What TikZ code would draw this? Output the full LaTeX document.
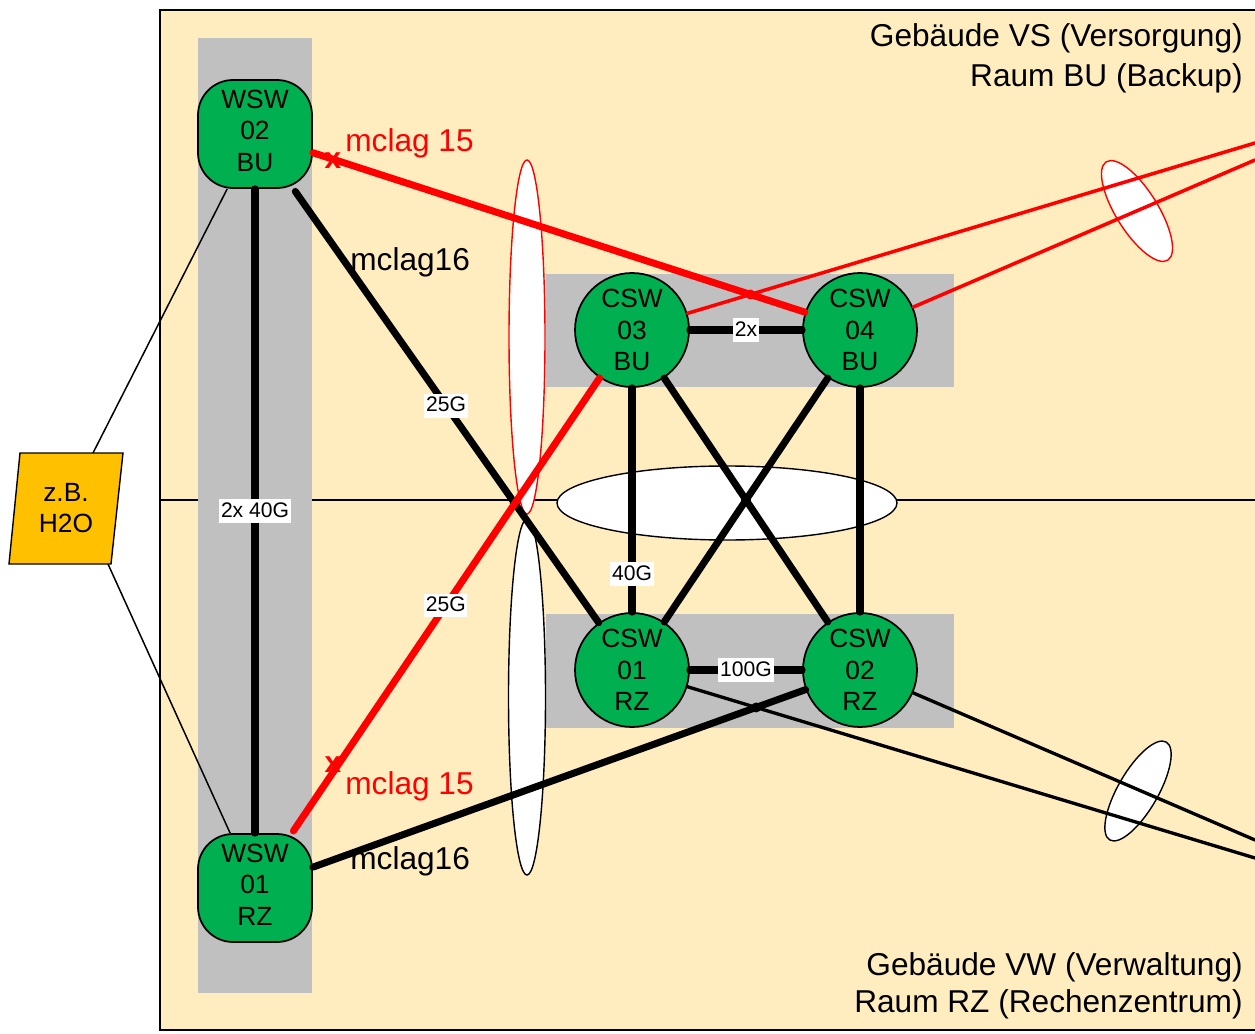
\documentclass[tikz,border=0pt]{standalone}
\usepackage{fontspec}
\setmainfont{Liberation Sans}
\usetikzlibrary{calc}

\definecolor{hallbg}{HTML}{FFEDC0}
\definecolor{rackgray}{HTML}{C0C0C0}
\definecolor{swgreen}{HTML}{00B050}
\definecolor{srcorange}{HTML}{FFC000}
\definecolor{linkred}{HTML}{FF0000}

\tikzset{
  wswbox/.style={draw=black, line width=1pt, fill=swgreen, rounded corners=0.7cm,
    minimum width=2.28cm, minimum height=2.16cm, align=center, inner sep=0pt,
    font=\fontsize{15}{18}\selectfont},
  cswbox/.style={draw=black, line width=1pt, fill=swgreen, circle, minimum size=2.28cm,
    align=center, inner sep=0pt, font=\fontsize{15}{18}\selectfont},
  trunk/.style={draw=black, line width=4pt, line cap=round},
  lagred/.style={draw=linkred, line width=4pt, line cap=round},
  upred/.style={draw=linkred, line width=2pt, line cap=round},
  upblack/.style={draw=black, line width=1.9pt, line cap=round},
  feed/.style={draw=black, line width=0.85pt},
  speed/.style={fill=white, inner xsep=1pt, inner ysep=0.6pt, text height=9.6pt, text depth=2.6pt,
    font=\fontsize{12}{12}\selectfont},
  lagtext/.style={anchor=base west, inner sep=0pt, font=\fontsize{18}{21}\selectfont},
  halltext/.style={anchor=base east, inner sep=0pt, font=\fontsize{18}{21}\selectfont},
  cutmark/.style={text=linkred, font=\fontsize{17}{17}\selectfont\bfseries, inner sep=0pt},
  bundle/.style={fill=white, line width=0.8pt},
  crossdot/.style={fill=black},
}

\begin{document}
\begin{tikzpicture}[x=0.02cm, y=-0.02cm]
  \clip (0,0) rectangle (1255,1034);

  % building area, floor divider, racks
  \fill[hallbg] (160,10) rectangle (1275,1030);
  \draw[line width=0.9pt] (1275,10) -- (160,10) -- (160,1030) -- (1275,1030);
  \draw[line width=1pt] (160,500) -- (1255,500);
  \fill[rackgray] (198,38) rectangle (312,993);
  \fill[rackgray] (546,274) rectangle (954,387);
  \fill[rackgray] (546,614) rectangle (954,728);

  % link bundles
  \draw[bundle, draw=linkred] (527,337) ellipse [x radius=18, y radius=177];
  \draw[bundle, draw=black] (527,697) ellipse [x radius=18.5, y radius=178];
  \draw[bundle, draw=black] (727,503) ellipse [x radius=170, y radius=37];
  \draw[bundle, draw=linkred, rotate around={-58:(1137,211)}] (1137,211) ellipse [x radius=1.16cm, y radius=0.42cm];
  \draw[bundle, draw=black, rotate around={60:(1138,791)}] (1138,791) ellipse [x radius=1.13cm, y radius=0.4cm];

  % external source
  \fill[srcorange, draw=black, line width=0.8pt] (20,453) -- (123,453) -- (111,564) -- (9,564) -- cycle;
  \node[align=center, font=\fontsize{15}{18}\selectfont] (h2o) at (66,508) {z.B.\\H2O};
  \coordinate (h2otop) at (93,453);
  \coordinate (h2obot) at (108,564);

  % switches (the empty last line lifts the text a little inside the box)
  \node[wswbox] (wsw2) at (255,134) {WSW\\02\\BU\\[-14pt]\mbox{}};
  \node[wswbox] (wsw1) at (255,888) {WSW\\01\\RZ\\[-14pt]\mbox{}};
  \node[cswbox] (csw3) at (632,330) {CSW\\03\\BU};
  \node[cswbox] (csw4) at (860,330) {CSW\\04\\BU};
  \node[cswbox] (csw1) at (632,670) {CSW\\01\\RZ};
  \node[cswbox] (csw2) at (860,670) {CSW\\02\\RZ};

  % outgoing uplink ends
  \coordinate (outr3) at (1255,143);
  \coordinate (outr4) at (1255,160);
  \coordinate (outb1) at (1255,858);
  \coordinate (outb2) at (1255,840);

  % texts
  \node[halltext] (hallvs) at (1243,47) {Gebäude VS (Versorgung)};
  \node[halltext] (roombu) at (1243,87) {Raum BU (Backup)};
  \node[halltext] (hallvw) at (1243,975) {Gebäude VW (Verwaltung)};
  \node[halltext] (roomrz) at (1243,1012) {Raum RZ (Rechenzentrum)};
  \node[lagtext, text=linkred] (lag15a) at (345,152) {mclag 15};
  \node[lagtext] (lag16a) at (350,270) {mclag16};
  \node[lagtext, text=linkred] (lag15b) at (345,794) {mclag 15};
  \node[lagtext] (lag16b) at (350,869) {mclag16};
  \node[cutmark] (cut1) at (333,161) {x};
  \node[cutmark] (cut2) at (333,765) {x};

  % feeds to the source
  \draw[feed] (h2otop) -- (wsw2);
  \draw[feed] (h2obot) -- (wsw1);

  % uplinks leaving to the right
  \draw[upblack] (csw1) -- (outb1);
  \draw[upblack] (csw2) -- (outb2);
  \draw[upred] (csw3) -- (outr3);
  \draw[upred] (csw4) -- (outr4);

  % core mesh
  \draw[trunk] (csw3) -- node[speed, pos=0.5] {2x} (csw4);
  \draw[trunk] (csw1) -- node[speed, pos=0.5] {100G} (csw2);
  \draw[trunk] (csw3) -- node[speed, pos=0.83] {40G} (csw1);
  \draw[trunk] (csw4) -- (csw2);
  \draw[trunk] (csw3) -- (csw2);
  \draw[trunk] (csw4) -- (csw1);
  \fill[crossdot] (intersection of csw3--csw2 and csw4--csw1) circle [radius=5];

  % access switch links
  \draw[trunk] (wsw2) -- node[speed, pos=0.5] {2x 40G} (wsw1);
  \draw[trunk, shorten <=1.8pt] (wsw2) -- node[speed, pos=0.5] {25G} (csw1);
  \fill[crossdot] (intersection of wsw2--csw1 and wsw1--csw3) circle [radius=5];
  \draw[trunk] (wsw1) -- (csw2);
  \fill[crossdot] (intersection of wsw1--csw2 and csw1--outb1) circle [radius=5];
  \draw[lagred, shorten <=1.5pt] (wsw1) -- node[speed, pos=0.5] {25G} (csw3);
  \draw[lagred] (wsw2) -- (csw4);
  \fill[linkred] (intersection of wsw2--csw4 and csw3--outr3) circle [radius=5];
\end{tikzpicture}
\end{document}
